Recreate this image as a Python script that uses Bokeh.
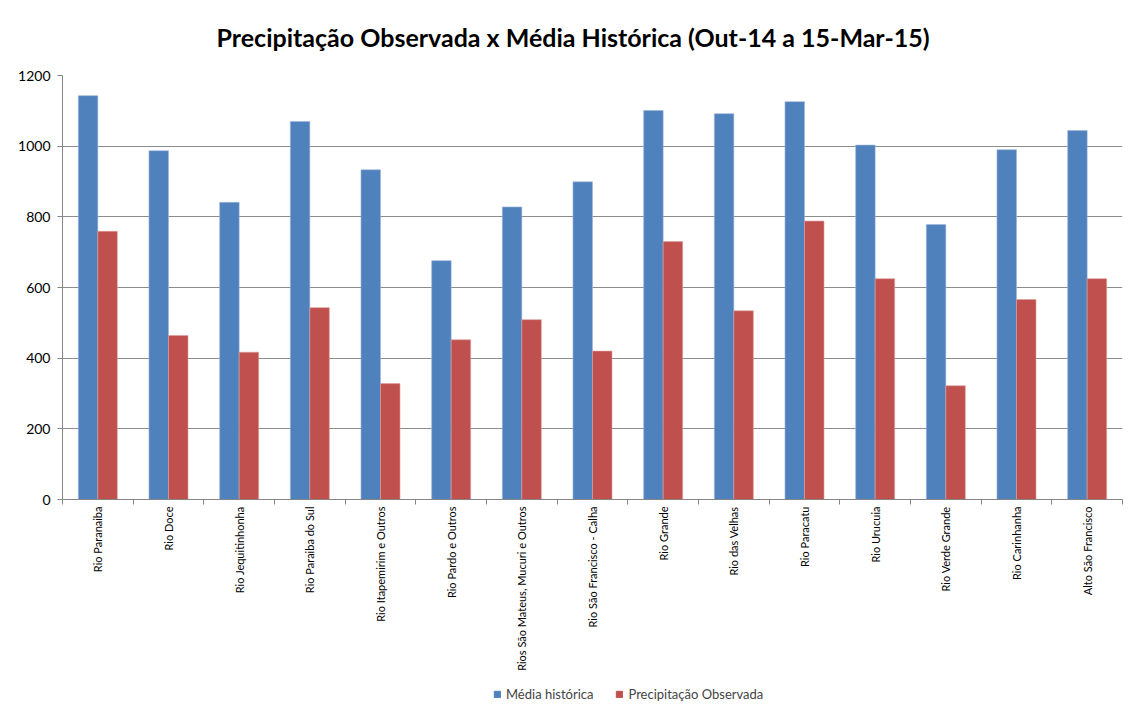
import numpy as np
from bokeh.plotting import figure
from bokeh.layouts import column
from bokeh.models import (ColumnDataSource, FixedTicker, Legend, LegendItem, Range1d)
from bokeh.embed import file_html
from bokeh.resources import INLINE

categories = ["Rio Paranaiba", "Rio Doce", "Rio Jequitinhonha", "Rio Paraiba do Sul",
              "Rio Itapemirim e Outros", "Rio Pardo e Outros",
              "Rios São Mateus, Mucuri e Outros", "Rio São Francisco - Calha",
              "Rio Grande", "Rio das Velhas", "Rio Paracatu", "Rio Urucuia",
              "Rio Verde Grande", "Rio Carinhanha", "Alto São Francisco"]
media_historica = [1143, 987, 841, 1070, 933, 676, 828, 899, 1101, 1092, 1126, 1003, 778, 990, 1044]
precip_observada = [759, 464, 417, 543, 328, 452, 509, 420, 730, 534, 788, 625, 322, 566, 625]
y_ticks = [0, 200, 400, 600, 800, 1000, 1200]
title_text = "Precipitação Observada x Média Histórica (Out-14 a  15-Mar-15)"
series_names = ["Média histórica", "Precipitação Observada"]

BLUE = "#4F81BD"
RED = "#C0504D"
FONT = "Lato"

n = len(categories)
centers = np.arange(n) + 0.5
bw = 0.276
src = ColumnDataSource(dict(
    xb=centers - bw / 2, xr=centers + bw / 2,
    media=media_historica, precip=precip_observada))

p = figure(width=1124, height=680, output_backend="svg", toolbar_location=None,
           x_range=Range1d(0, n), y_range=Range1d(0, 1200),
           min_border_left=62, min_border_right=2, min_border_top=75,
           min_border_bottom=181)

p.title.text = title_text
p.title.text_font = FONT
p.title.text_font_size = "25px"
p.title.text_font_style = "bold"
p.title.align = "left"
p.title.offset = 154
p.title.standoff = 43
p.title.vertical_align = "top"
p.title.text_color = "#000000"

rb = p.vbar(x="xb", top="media", width=bw, source=src, fill_color=BLUE,
            line_color="#9DB6D8", line_width=0.6)
rr = p.vbar(x="xr", top="precip", width=bw, source=src, fill_color=RED,
            line_color="#DCA09E", line_width=0.6)

p.outline_line_color = None
p.background_fill_color = "white"
p.border_fill_color = "white"

# y axis
p.yaxis.ticker = FixedTicker(ticks=y_ticks, minor_ticks=[])
p.yaxis.axis_line_color = "#868686"
p.yaxis.major_tick_line_color = "#868686"
p.yaxis.major_tick_out = 5
p.yaxis.major_tick_in = 0
p.yaxis.major_label_text_font = FONT
p.yaxis.major_label_text_font_size = "14px"
p.yaxis.major_label_text_color = "#000000"
p.yaxis.major_label_standoff = 7

# x axis
p.xaxis.ticker = FixedTicker(ticks=list(centers), minor_ticks=list(np.arange(n + 1)))
p.xaxis.major_label_overrides = {float(c): lab for c, lab in zip(centers, categories)}
p.xaxis.major_label_orientation = np.pi / 2
p.xaxis.major_label_text_font = FONT
p.xaxis.major_label_text_font_size = "11px"
p.xaxis.major_label_text_color = "#000000"
p.xaxis.major_tick_line_color = None
p.xaxis.minor_tick_line_color = "#868686"
p.xaxis.minor_tick_out = 5
p.xaxis.minor_tick_in = 0
p.xaxis.axis_line_color = "#868686"
p.xaxis.major_label_standoff = 1

p.xgrid.grid_line_color = None
p.ygrid.grid_line_color = "#8C8C8C"
p.ygrid.ticker = FixedTicker(ticks=y_ticks[1:])

# legend strip (proxy glyphs lie outside the visible range)
lg = figure(width=1124, height=25, output_backend="svg", toolbar_location=None,
            x_range=Range1d(0, 1), y_range=Range1d(0, 1),
            min_border=0, outline_line_color=None)
lg.axis.visible = False
lg.grid.visible = False
proxy = ColumnDataSource(dict(x=[-5], top=[-5]))
lb = lg.vbar(x="x", top="top", width=0.1, source=proxy, fill_color=BLUE, line_color=BLUE)
lr = lg.vbar(x="x", top="top", width=0.1, source=proxy, fill_color=RED, line_color=RED)
legend = Legend(items=[LegendItem(label=series_names[0], renderers=[lb]),
                       LegendItem(label=series_names[1], renderers=[lr])],
                orientation="horizontal", location=(431, 3),
                label_text_font=FONT, label_text_font_size="13px",
                glyph_width=8, glyph_height=8, spacing=22, label_standoff=5,
                border_line_color=None, background_fill_alpha=0, padding=2, margin=0)
lg.add_layout(legend)

layout = column(p, lg, spacing=0)
open("out.html", "w").write(file_html(layout, INLINE))
